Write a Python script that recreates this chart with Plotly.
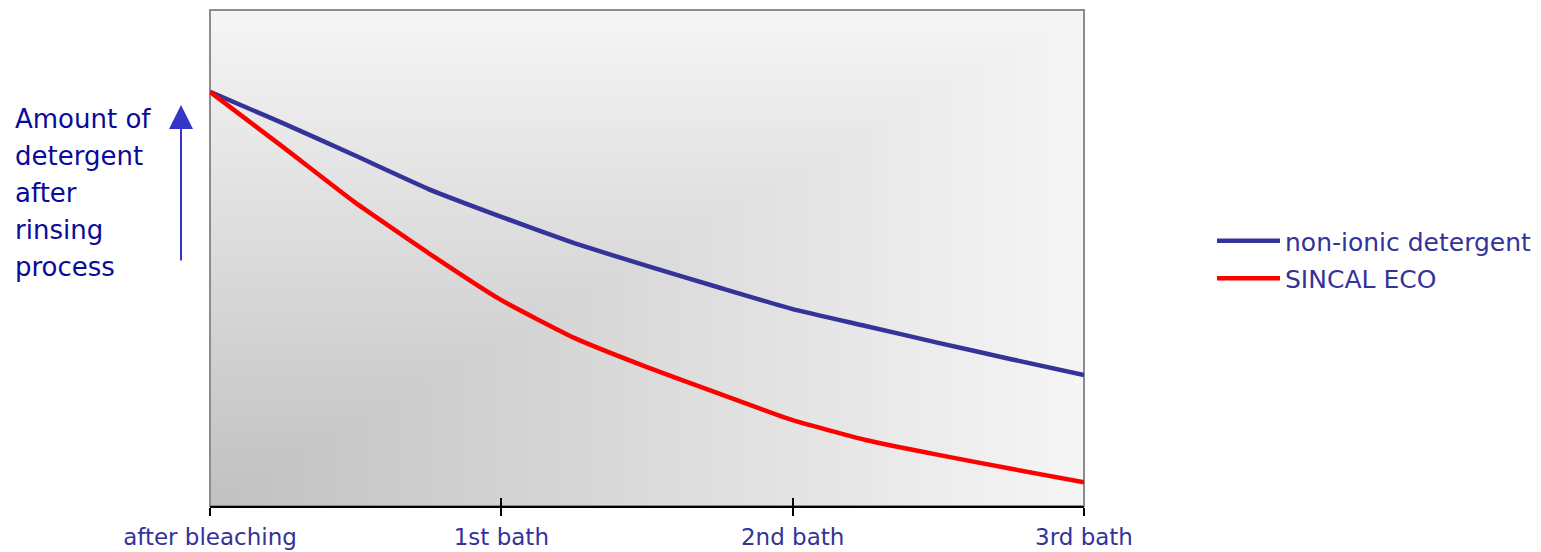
import base64
import plotly.graph_objects as go

# ---------------- data ----------------
categories = ["after bleaching", "1st bath", "2nd bath", "3rd bath"]
category_pos = [0, 1, 2, 3]
x_steps = [0, 0.25, 0.5, 0.75, 1, 1.25, 1.5, 1.75, 2, 2.25, 2.5, 2.75, 3]
non_ionic = [83.5, 77.2, 70.6, 63.9, 58.3, 53.0, 48.4, 44.0, 39.7, 36.3, 32.9, 29.6, 26.4]
sincal_eco = [83.5, 72.4, 61.1, 51.0, 41.5, 33.9, 28.0, 22.6, 17.3, 13.3, 10.3, 7.5, 4.8]
series_names = ["non-ionic detergent", "SINCAL ECO"]
ylabel_lines = ["Amount of", "detergent", "after", "rinsing", "process"]

# ---------------- style ----------------
BLUE = "#333399"
RED = "#ff0000"
TEXT_BLUE = "#333399"
LABEL_BLUE = "#0a0a99"
FONT = "DejaVu Sans"

OFF = 8  # page body margin
W, H = 1541 - OFF, 552 - OFF
ML, MT = 210 - OFF, 10 - OFF
PW, PH = 874, 496
MR = W - ML - PW
MB = H - MT - PH


def px_to_paper_x(px):
    return (px - OFF - ML) / PW


def px_to_paper_y(py):
    return (MT + PH - (py - OFF)) / PH


# background gradient (rectangular gradient from bottom-left corner)
rects = []
N = 80
for i in range(N, 0, -1):
    s = i / N
    g = int(round(192 + (245 - 192) * s))
    size = 1000 * s
    rects.append(
        f'<rect x="0" y="{1000 - size:.2f}" width="{size:.2f}" height="{size:.2f}" '
        f'fill="rgb({g},{g},{g})"/>'
    )
svg = (
    '<svg xmlns="http://www.w3.org/2000/svg" viewBox="0 0 1000 1000" '
    'preserveAspectRatio="none" width="1000" height="1000">'
    + "".join(rects)
    + "</svg>"
)
svg_uri = "data:image/svg+xml;base64," + base64.b64encode(svg.encode()).decode()

fig = go.Figure()
fig.add_trace(go.Scatter(x=x_steps, y=non_ionic, mode="lines", name=series_names[0],
                         line=dict(color=BLUE, width=4.5, shape="spline", smoothing=0.4),
                         legendgroup="a"))
fig.add_trace(go.Scatter(x=x_steps, y=sincal_eco, mode="lines", name=series_names[1],
                         line=dict(color=RED, width=4.5, shape="spline", smoothing=0.4),
                         legendgroup="b"))

annotations = []
line_centers = [119, 156, 193, 230, 267]
for txt, cy in zip(ylabel_lines, line_centers):
    annotations.append(dict(
        text=txt, xref="paper", yref="paper",
        x=px_to_paper_x(13), y=px_to_paper_y(cy),
        xanchor="left", yanchor="middle", showarrow=False,
        font=dict(family=FONT, size=26, color=LABEL_BLUE),
    ))
# arrow
annotations.append(dict(
    text="", xref="paper", yref="paper",
    x=px_to_paper_x(181), y=px_to_paper_y(105),
    ax=0, ay=157, showarrow=True, arrowhead=2, arrowsize=2.4,
    arrowwidth=2, arrowcolor="#3535c8",
))

fig.update_layout(
    width=W, height=H,
    margin=dict(l=ML, r=MR, t=MT, b=MB, pad=0, autoexpand=False),
    paper_bgcolor="white",
    plot_bgcolor="rgba(0,0,0,0)",
    showlegend=True,
    legend=dict(
        x=px_to_paper_x(1212), y=px_to_paper_y(218),
        xanchor="left", yanchor="top",
        font=dict(family=FONT, size=25, color=TEXT_BLUE),
        bgcolor="rgba(0,0,0,0)", traceorder="grouped", tracegroupgap=2,
        itemwidth=63,
    ),
    xaxis=dict(
        range=[0, 3], showgrid=False, zeroline=False, automargin=False,
        showline=True, linecolor="black", linewidth=1.5,
        ticks="outside", ticklen=8, tickwidth=1.5, tickcolor="black",
        tickvals=category_pos, ticktext=categories,
        tickfont=dict(family=FONT, size=23, color=TEXT_BLUE),
        ticklabelstandoff=2,
    ),
    xaxis2=dict(
        range=[0, 3], overlaying="x", anchor="y", side="bottom",
        showgrid=False, zeroline=False, showline=False, automargin=False,
        ticks="inside", ticklen=8, tickwidth=1.5, tickcolor="black",
        tickvals=category_pos, showticklabels=False,
    ),
    yaxis=dict(range=[0, 100], visible=False, fixedrange=True, automargin=False),
    images=[dict(
        source=svg_uri, xref="paper", yref="paper", x=0, y=1,
        sizex=1, sizey=1, sizing="stretch", layer="below",
        xanchor="left", yanchor="top",
    )],
    shapes=[dict(
        type="rect", xref="paper", yref="paper", x0=0, x1=1, y0=0, y1=1,
        line=dict(color="#8c8c8c", width=2), layer="below",
    )],
    annotations=annotations,
)
# dummy trace so xaxis2 renders its ticks
fig.add_trace(go.Scatter(x=[0, 3], y=[None, None], xaxis="x2", showlegend=False,
                         hoverinfo="skip"))

fig.write_html("out.html")
